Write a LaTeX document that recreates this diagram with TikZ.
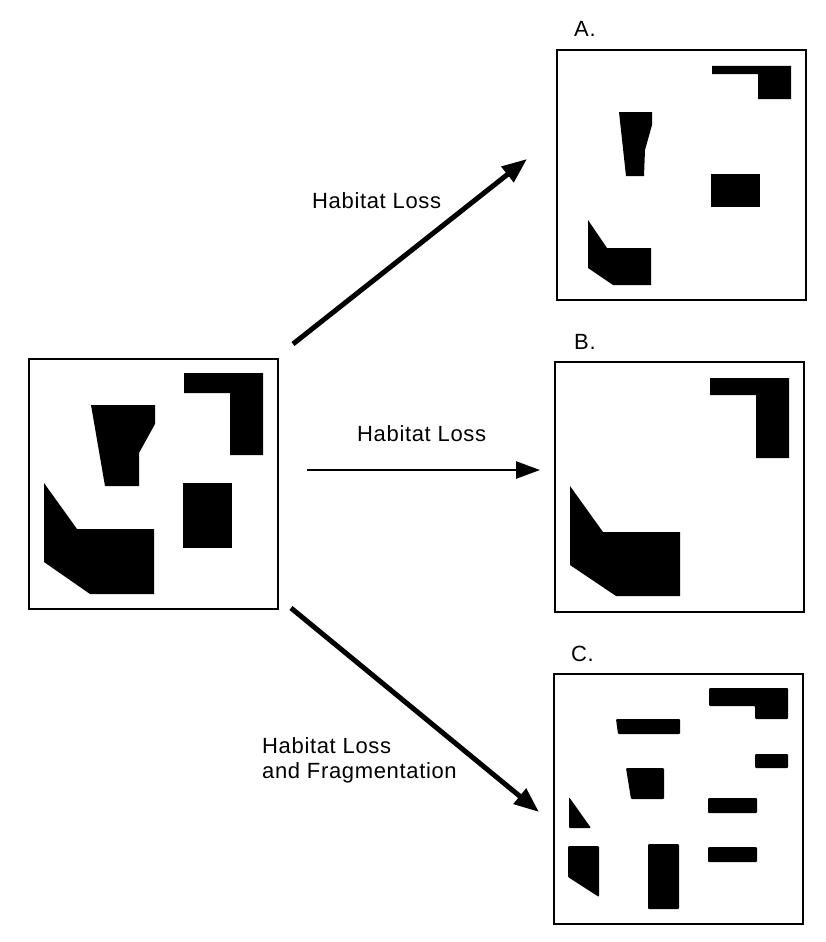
\documentclass[tikz,border=0pt]{standalone}
\usepackage{fontspec}
\setmainfont{Liberation Sans}
\newfontfamily\tagfont[LetterSpace=3]{Liberation Sans}
\usetikzlibrary{positioning, arrows.meta}

\begin{document}
\begin{tikzpicture}[
  x=1pt, y=-1pt,
  font=\tagfont\fontsize{22}{25}\selectfont,
  panel/.style={
    draw, line width=2pt, inner sep=0pt,
    minimum width=249pt, minimum height=250pt
  },
  patch/.style={fill=black},
  tag/.style={anchor=base west, inner sep=0pt, align=left},
  move/.style={line width=5pt, -{Triangle[length=25pt,width=19pt]}},
  thinmove/.style={line width=2.5pt, -{Triangle[length=24pt,width=17pt]}}
]
\useasboundingbox (0,0) rectangle (826,942);

% landscapes
\node[panel] (orig) at (153.5,484) {};
\node[panel] (boxA) at (681.5,175) {};
\node[panel] (boxB) at (679.5,487) {};
\node[panel] (boxC) at (678.5,799) {};

\node[tag] (labA) at ([xshift=18pt, yshift=12pt]boxA.north west) {A.};
\node[tag] (labB) at ([xshift=20pt, yshift=12pt]boxB.north west) {B.};
\node[tag] (labC) at ([xshift=18pt, yshift=12pt]boxC.north west) {C.};

% original habitat
\fill[patch] (184,373) -- (263,373) -- (263,455) -- (230,455) -- (230,393) -- (184,393) -- cycle;
\fill[patch] (91,405) -- (155,405) -- (155,424) -- (139,453) -- (139,486) -- (105,486) -- cycle;
\fill[patch] (183,483) rectangle (232,548);
\fill[patch] (44,483) -- (77,529) -- (154,529) -- (154,594) -- (90,594) -- (44,562) -- cycle;

% A
\fill[patch] (712,66) -- (791,66) -- (791,99) -- (758,99) -- (758,74) -- (712,74) -- cycle;
\fill[patch] (619,112) -- (652,112) -- (652,125) -- (645,150) -- (644,176) -- (626,176) -- cycle;
\fill[patch] (711,174) rectangle (760,207);
\fill[patch] (588,220) -- (607,248) -- (651,248) -- (651,285) -- (613,285) -- (588,268) -- cycle;

% B
\fill[patch] (710,378) -- (789,378) -- (789,458) -- (756,458) -- (756,395) -- (710,395) -- cycle;
\fill[patch] (570,486) -- (603,532) -- (680,532) -- (680,596) -- (616,596) -- (570,565) -- cycle;

% C
\begin{scope}[rounded corners=1pt]
\fill[patch] (709,688) -- (788,688) -- (788,719) -- (755,719) -- (755,706) -- (709,706) -- cycle;
\fill[patch] (616,719) -- (680,719) -- (680,734) -- (618,734) -- cycle;
\fill[patch] (755,754) rectangle (788,768);
\fill[patch] (626,768) -- (664,768) -- (664,799) -- (631,799) -- cycle;
\fill[patch] (708,798) rectangle (757,813);
\fill[patch] (569,797) -- (591,828) -- (569,828) -- cycle;
\fill[patch] (708,847) rectangle (757,862);
\fill[patch] (568,846) -- (599,846) -- (599,897) -- (568,877) -- cycle;
\fill[patch] (648,844) rectangle (679,909);
\end{scope}

% arrows
\coordinate (upS) at (293,344);
\coordinate (upE) at (527,159);
\coordinate (midS) at (307,470);
\coordinate (midE) at (540,470);
\coordinate (dnS) at (291,608);
\coordinate (dnE) at (539,812);

\draw[move] (upS) -- (upE);
\draw[thinmove] (midS) -- (midE);
\draw[move] (dnS) -- (dnE);

\node[tag] (lossA) at (312,208) {Habitat Loss};
\node[tag] (lossB) at (357,441) {Habitat Loss};
\node[tag] (lossC) at (262,778) {Habitat Loss\\and Fragmentation};
\end{tikzpicture}
\end{document}
